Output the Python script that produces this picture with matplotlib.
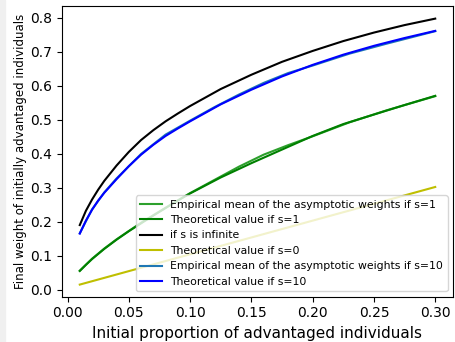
import matplotlib
matplotlib.use("Agg")
import matplotlib.pyplot as plt
from matplotlib.patches import Rectangle

# initial proportion of advantaged individuals
p = [0.01, 0.015, 0.02, 0.025, 0.03, 0.04, 0.05, 0.06, 0.07, 0.08, 0.09,
     0.10, 0.125, 0.15, 0.175, 0.20, 0.225, 0.25, 0.275, 0.30]
theo_inf = [0.190, 0.232, 0.265, 0.294, 0.320, 0.365, 0.405, 0.440, 0.469,
            0.495, 0.518, 0.540, 0.590, 0.632, 0.670, 0.702, 0.731, 0.756,
            0.778, 0.797]
theo_s10 = [0.165, 0.203, 0.235, 0.262, 0.285, 0.325, 0.363, 0.397, 0.426,
            0.452, 0.474, 0.495, 0.545, 0.588, 0.627, 0.661, 0.691, 0.717,
            0.740, 0.761]
theo_s1 = [0.055, 0.073, 0.090, 0.105, 0.120, 0.147, 0.172, 0.195, 0.218,
           0.240, 0.262, 0.283, 0.330, 0.372, 0.412, 0.452, 0.487, 0.515,
           0.543, 0.570]
theo_s0_p = [0.01, 0.30]
theo_s0 = [0.015, 0.302]

# empirical means (fewer simulation points)
emp_p = [0.01, 0.02, 0.03, 0.04, 0.06, 0.08, 0.10, 0.12, 0.14, 0.16, 0.18,
         0.20, 0.23, 0.26, 0.30]
emp_s10 = [0.166, 0.236, 0.286, 0.327, 0.399, 0.456, 0.497, 0.537, 0.574,
           0.608, 0.637, 0.659, 0.694, 0.723, 0.760]
emp_s1 = [0.056, 0.091, 0.121, 0.148, 0.197, 0.241, 0.284, 0.323, 0.362,
          0.397, 0.425, 0.451, 0.492, 0.527, 0.569]

fig = plt.figure(figsize=(4.55, 3.42), dpi=100)
fig.patches.append(Rectangle((0, 0), 5 / 455, 1, transform=fig.transFigure,
                             color="#f0f0f0", zorder=0))
ax = fig.add_axes([62 / 455, 1 - 296.5 / 342, 391 / 455, 290.8 / 342])

ax.plot(emp_p, emp_s1, color="tab:green", label="Empirical mean of the asymptotic weights if s=1")
ax.plot(p, theo_s1, color="green", label="Theoretical value if s=1")
ax.plot(p, theo_inf, color="k", label="if s is infinite")
ax.plot(theo_s0_p, theo_s0, color="y", label="Theoretical value if s=0")
ax.plot(emp_p, emp_s10, color="tab:blue", label="Empirical mean of the asymptotic weights if s=10")
ax.plot(p, theo_s10, color="blue", label="Theoretical value if s=10")

ax.set_xlim(-0.0045, 0.3145)
ax.set_ylim(-0.02, 0.835)
ax.set_xticks([0.0, 0.05, 0.10, 0.15, 0.20, 0.25, 0.30])
ax.tick_params(labelsize=10)
ax.set_xlabel("Initial proportion of advantaged individuals", fontsize=11)
ax.set_ylabel("Final weight of initially advantaged individuals", fontsize=8.5,
              labelpad=2)
ax.legend(loc="lower right", fontsize=7.8)

fig.savefig("out.png", dpi=100)
